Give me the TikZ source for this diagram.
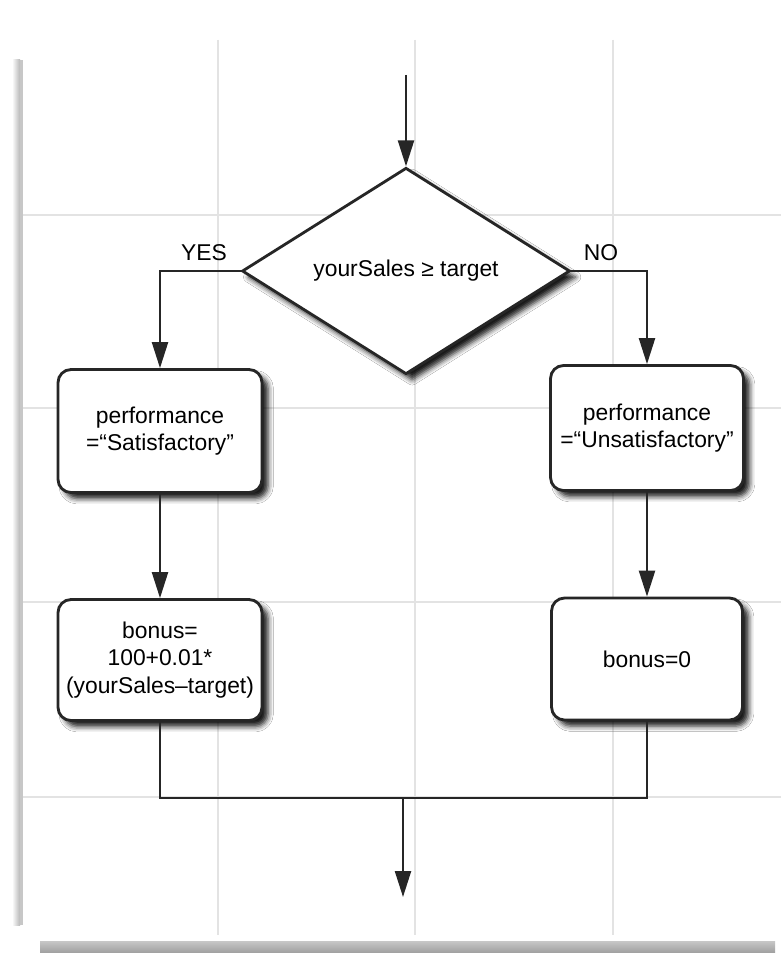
\documentclass[tikz,border=0pt]{standalone}
\usepackage{fontspec}
\setmainfont{Liberation Sans}
\usetikzlibrary{shapes.geometric,arrows.meta,shadows.blur}
\begin{document}
\begin{tikzpicture}[x=0.02cm,y=-0.02cm,
  every node/.style={font=\fontsize{13}{15.6}\selectfont},
  gridline/.style={draw=black!11,line width=0.6pt},
  flow/.style={draw=black!85,line width=1.3pt},
  arrowflow/.style={flow,-{Triangle[length=0.52cm,width=0.32cm]}},
  shade/.style={blur shadow={shadow xshift=3.5pt,shadow yshift=-3.5pt,shadow blur radius=3pt,shadow opacity=90}},
  stepbox/.style={draw=black!85,line width=1.6pt,fill=white,rounded corners=0.26cm,
    align=center,inner sep=2pt,shade},
  decision/.style={diamond,draw=black!85,line width=1.6pt,fill=white,shade,
    minimum width=6.56cm,minimum height=3.84cm,inner sep=0pt},
  tag/.style={inner sep=1pt}]

% page and grid
\fill[white] (0,0) rectangle (781,953);
\foreach \gx in {218,415,613}
  \draw[gridline] (\gx,40) -- (\gx,935);
\foreach \gy in {215,408,602,797}
  \draw[gridline] (22,\gy) -- (781,\gy);
\fill[left color=white,right color=black!28] (12,60) rectangle (20,925);
\fill[black!22] (20,60) rectangle (23,925);
\fill[top color=black!22,bottom color=black!38] (40,941) rectangle (775,953);

% flow chart
\node[decision] (test) at (406,271) {yourSales ≥ target};
\node[stepbox,minimum width=4.08cm,minimum height=2.46cm] (sat) at (160,431)
  {performance\\=“Satisfactory”};
\node[stepbox,minimum width=4.08cm,minimum height=2.42cm] (bonusA) at (160,660)
  {bonus=\\100+0.01*\\(yourSales–target)};
\node[stepbox,minimum width=3.86cm,minimum height=2.5cm] (unsat) at (647,428)
  {performance\\=“Unsatisfactory”};
\node[stepbox,minimum width=3.82cm,minimum height=2.44cm] (bonusB) at (647,659)
  {bonus=0};

\coordinate (start) at (406,75);
\coordinate (join) at (403,798);
\coordinate (finish) at (403,897);

\draw[arrowflow] (start) -- (test.north);
\draw[arrowflow] (test.west) -| (sat.north);
\draw[arrowflow] (test.east) -| (unsat.north);
\draw[arrowflow] (sat.south) -- (bonusA.north);
\draw[arrowflow] (unsat.south) -- (bonusB.north);
\draw[flow] (bonusA.south) |- (join) -| (bonusB.south);
\draw[arrowflow] (join) -- (finish);

\node[tag,anchor=south] (yes) at (204,263) {YES};
\node[tag,anchor=south] (no) at (601,263) {NO};
\end{tikzpicture}
\end{document}
